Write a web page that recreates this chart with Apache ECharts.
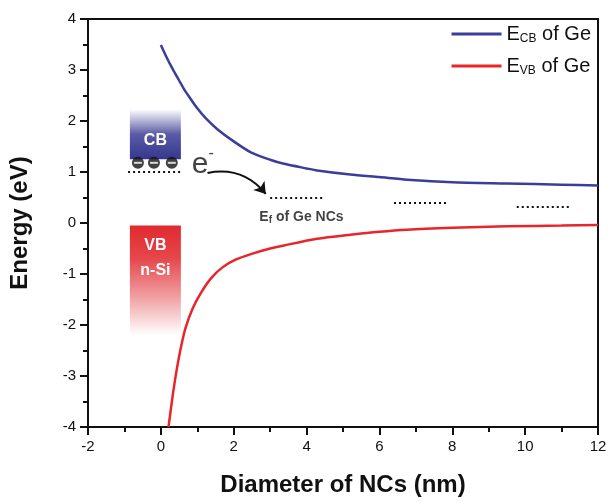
<!DOCTYPE html>
<html>
<head>
<meta charset="utf-8">
<script src="https://cdn.jsdelivr.net/npm/echarts@6/dist/echarts.min.js"></script>
<style>html,body{margin:0;padding:0;background:#fff;}#c{width:610px;height:502px;}</style>
</head>
<body>
<div id="c"></div>
<script>
// ---- data ----
const cbX = [0, 0.15, 0.3, 0.45, 0.64, 0.8, 1.0, 1.25, 1.55, 2.0, 2.47, 3.0, 3.38, 4.0, 4.29, 5.2, 6.0, 6.76, 8.0, 9.5, 11.0, 12];
const cbY = [3.49, 3.26, 3.05, 2.86, 2.62, 2.45, 2.25, 2.04, 1.84, 1.60, 1.385, 1.24, 1.16, 1.07, 1.03, 0.95, 0.90, 0.85, 0.80, 0.775, 0.75, 0.735];
const vbX = [0.21, 0.32, 0.43, 0.55, 0.68, 0.87, 1.1, 1.37, 1.69, 2.05, 2.47, 3.0, 3.38, 4.29, 5.2, 6.0, 6.76, 8.0, 9.5, 11.0, 12];
const vbY = [-4.0, -3.41, -2.90, -2.44, -2.05, -1.68, -1.37, -1.09, -0.87, -0.72, -0.61, -0.50, -0.44, -0.31, -0.23, -0.17, -0.13, -0.095, -0.065, -0.05, -0.04];
const seriesNames = ['ECB', 'EVB'];
const legendLabels = ['{e|E}{s|CB}{e| of Ge}', '{e|E}{s|VB}{e| of Ge}'];
// Fermi levels of Ge NCs: [xStart, xEnd, y]
const efStart = [3.0, 6.4, 9.77];
const efEnd = [4.47, 7.86, 11.23];
const efLevel = [0.5, 0.39, 0.32];
// n-Si band boxes: [x0, x1, yTop, yBottom]
const cbBox = [-0.85, 0.55, 2.23, 1.25];
const vbBox = [-0.85, 0.55, -0.05, -2.2];
// electrons in n-Si CB
const elecX = [-0.63, -0.19, 0.30];
const elecY = [1.18, 1.18, 1.18];
const siFermi = [-0.9, 0.58, 1.0];
const arrowFrom = [1.28, 0.98];
const arrowTo = [2.88, 0.57];
const ePos = [1.15, 1.15];
const efTextPos = [3.86, 0.12];
const xTicks = {min: -2, max: 12, interval: 2};
const yTicks = {min: -4, max: 4, interval: 1};

const zip = (a, b) => a.map((v, i) => [v, b[i]]);
const FONT = 'Liberation Sans, Arial, sans-serif';
const INK = '#111';
const chart = echarts.init(document.getElementById('c'), null, {renderer: 'canvas'});

const axisCommon = {
  axisLine: {onZero: false, lineStyle: {color: INK, width: 2}},
  axisTick: {length: 8, lineStyle: {color: INK, width: 2}},
  minorTick: {show: true, splitNumber: 2, length: 5, lineStyle: {color: INK, width: 2}},
  splitLine: {show: false},
  axisLabel: {color: INK, fontSize: 15, fontFamily: FONT, margin: 12},
  nameTextStyle: {color: INK, fontSize: 24, fontWeight: 'bold', fontFamily: FONT},
  nameLocation: 'middle'
};

chart.setOption({
  backgroundColor: '#fff',
  animation: false,
  grid: {left: 88, right: 12, top: 19, bottom: 72, show: true, borderColor: INK, borderWidth: 2},
  xAxis: Object.assign({}, axisCommon, {
    type: 'value', min: xTicks.min, max: xTicks.max, interval: xTicks.interval,
    name: 'Diameter of NCs (nm)', nameGap: 46
  }),
  yAxis: Object.assign({}, axisCommon, {
    type: 'value', min: yTicks.min, max: yTicks.max, interval: yTicks.interval,
    name: 'Energy (eV)', nameGap: 56
  }),
  legend: {
    orient: 'vertical', right: 14, top: 18, itemWidth: 50, itemHeight: 3, itemGap: 10,
    icon: 'rect',
    data: seriesNames,
    formatter: n => legendLabels[seriesNames.indexOf(n)],
    textStyle: {
      fontFamily: FONT, color: INK,
      rich: {
        e: {fontSize: 20, fontFamily: FONT, color: INK, lineHeight: 22},
        s: {fontSize: 12, fontFamily: FONT, color: INK, padding: [10, 0, 0, 0], lineHeight: 22}
      }
    }
  },
  series: [
    {
      name: 'ECB', type: 'line', data: zip(cbX, cbY), symbol: 'none', smooth: 0.25,
      lineStyle: {color: '#3b3e98', width: 2.5}, itemStyle: {color: '#3b3e98'}, z: 5
    },
    {
      name: 'EVB', type: 'line', data: zip(vbX, vbY), symbol: 'none', smooth: 0.25,
      lineStyle: {color: '#e8262a', width: 2.5}, itemStyle: {color: '#e8262a'}, z: 5
    },
    {
      name: 'bands', type: 'line', data: [], symbol: 'none',
      markArea: {
        silent: true,
        data: [
          [{coord: [cbBox[0], cbBox[2]],
            itemStyle: {color: {type: 'linear', x: 0, y: 0, x2: 0, y2: 1, colorStops: [
              {offset: 0, color: '#ffffff'}, {offset: 0.5, color: '#5a5aa6'}, {offset: 1, color: '#35378e'}]}},
            label: {show: true, position: 'inside', offset: [0, 6], formatter: 'CB', color: '#fff', fontSize: 16, fontWeight: 'bold', fontFamily: FONT}},
           {coord: [cbBox[1], cbBox[3]]}],
          [{coord: [vbBox[0], vbBox[2]],
            itemStyle: {color: {type: 'linear', x: 0, y: 0, x2: 0, y2: 1, colorStops: [
              {offset: 0, color: '#e02a2e'}, {offset: 0.3, color: '#e6474b'}, {offset: 0.65, color: '#f09fa1'}, {offset: 1, color: '#ffffff'}]}},
            label: {show: true, position: 'insideTop', distance: 8, formatter: 'VB\nn-Si', color: '#fff', fontSize: 16, fontWeight: 'bold', fontFamily: FONT, lineHeight: 25, align: 'center'}},
           {coord: [vbBox[1], vbBox[3]]}]
        ]
      },
      markLine: {
        silent: true, symbol: 'none',
        lineStyle: {color: INK, width: 2, type: [2, 3]},
        label: {show: false},
        data: efStart.map((s, i) => [{coord: [s, efLevel[i]]}, {coord: [efEnd[i], efLevel[i]]}])
          .concat([[{coord: [siFermi[0], siFermi[2]]}, {coord: [siFermi[1], siFermi[2]]}]])
      }
    },
    {
      name: 'arrow', type: 'lines', coordinateSystem: 'cartesian2d', silent: true, z: 8,
      symbol: ['none', 'arrow'], symbolSize: 11,
      lineStyle: {color: INK, width: 2, curveness: 0.3, opacity: 1},
      data: [{coords: [arrowFrom, arrowTo]}]
    },
    {
      name: 'electrons', type: 'scatter', data: zip(elecX, elecY), symbol: 'circle', symbolSize: 12,
      itemStyle: {color: INK}, silent: true, z: 6
    },
    {
      name: 'electronMinus', type: 'scatter', data: zip(elecX, elecY), symbol: 'rect', symbolSize: [8, 2],
      itemStyle: {color: '#fff'}, silent: true, z: 7
    },
    {
      name: 'texts', type: 'scatter', symbolSize: 0, silent: true, z: 8,
      data: [
        {value: ePos, label: {show: true, position: 'inside', formatter: '{e|e}{m|-}',
          rich: {e: {fontSize: 30, fontFamily: FONT, color: INK}, m: {fontSize: 16, fontFamily: FONT, color: INK, padding: [0, 0, 22, 0]}}}},
        {value: efTextPos, label: {show: true, position: 'inside', formatter: '{b|E}{s|f}{b| of Ge NCs}',
          rich: {b: {fontSize: 14, fontWeight: 'bold', fontFamily: FONT, color: INK}, s: {fontSize: 10, fontWeight: 'bold', fontFamily: FONT, color: INK, padding: [6, 0, 0, 0]}}}}
      ]
    }
  ]
});
</script>
</body>
</html>
